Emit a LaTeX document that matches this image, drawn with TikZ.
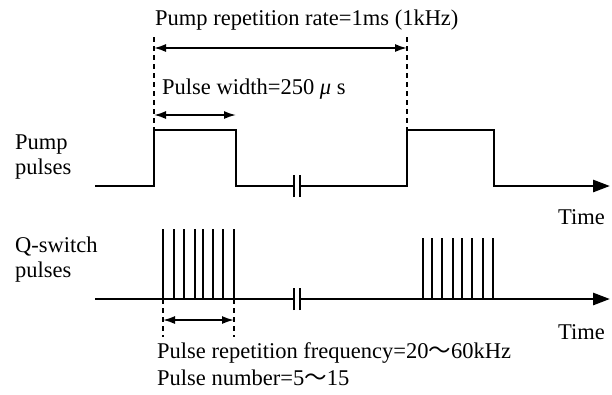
\documentclass[tikz,border=0pt]{standalone}
\usepackage{fontspec}
\setmainfont{Liberation Serif}
\newfontfamily\cjkfont{Noto Sans CJK SC}
\usetikzlibrary{arrows.meta}
\definecolor{inkblack}{RGB}{0,0,0}
\tikzset{
  % Signal lines
  waveline/.style  = {line width=2.8pt, draw=inkblack, line join=miter},
  spikeline/.style = {line width=1.6pt, draw=inkblack},
  timeaxis/.style  = {waveline, -{Triangle[length=17pt,width=12pt]}},
  breakmark/.style = {line width=1.8pt, draw=inkblack},
  % Dimension lines
  dimarrow/.style  = {line width=1.7pt, {Latex[length=12pt,width=8pt]}-{Latex[length=12pt,width=8pt]}},
  guidedash/.style = {line width=1.1pt, dash pattern=on 5pt off 4pt},
  % Labels
  lab/.style       = {font=\fontsize{22.5}{26}\selectfont, inner sep=0pt, anchor=base west},
}
\begin{document}
\begin{tikzpicture}[x=1pt,y=-1pt]
  \useasboundingbox (0,0) rectangle (612,394);
  % Pump pulse corners
  \coordinate (P0) at (95,186);
  \coordinate (P1) at (154,186);
  \coordinate (P2) at (154,130);
  \coordinate (P3) at (236,130);
  \coordinate (P4) at (236,186);
  \coordinate (PB1) at (294,186);
  \coordinate (PB2) at (300,186);
  \coordinate (P5) at (407,186);
  \coordinate (P6) at (407,130);
  \coordinate (P7) at (494,130);
  \coordinate (P8) at (494,186);
  \coordinate (Pend) at (610,186);
  % Q-switch baseline
  \coordinate (Q0) at (95,299);
  \coordinate (QB1) at (294,299);
  \coordinate (QB2) at (300,299);
  \coordinate (Qend) at (610,299);
  % Pump waveform
  \draw[waveline] (P0) -- (P1) -- (P2) -- (P3) -- (P4) -- (PB1);
  \draw[timeaxis] (PB2) -- (P5) -- (P6) -- (P7) -- (P8) -- (Pend);
  % Q-switch waveform
  \draw[waveline] (Q0) -- (QB1);
  \draw[timeaxis] (QB2) -- (Qend);
  \foreach \x in {163,174,184,195,203,213,223,234}
    \draw[spikeline] (\x,299) -- (\x,229);
  \foreach \x in {423,432,442,453,462,472,483,493}
    \draw[spikeline] (\x,299) -- (\x,238);
  % Axis breaks
  \foreach \y in {186,299} {
    \draw[breakmark] ([yshift=-11pt]294,\y) -- ([yshift=11pt]294,\y);
    \draw[breakmark] ([yshift=-11pt]300,\y) -- ([yshift=11pt]300,\y);
  }
  % Guide lines
  \coordinate (G1) at (154,37);
  \coordinate (G2) at (407,37);
  \coordinate (G3) at (163,337);
  \coordinate (G4) at (234,337);
  \draw[guidedash] (G1) -- (P2);
  \draw[guidedash] (G2) -- (P6);
  \draw[guidedash] (163,299) -- (G3);
  \draw[guidedash] (234,299) -- (G4);
  % Dimension arrows
  \coordinate (R1) at (154,48);
  \coordinate (R2) at (407,48);
  \coordinate (W1) at (154,115);
  \coordinate (W2) at (236,115);
  \coordinate (F1) at (163,320);
  \coordinate (F2) at (234,320);
  \draw[dimarrow] (R1) -- (R2);
  \draw[dimarrow] (W1) -- (W2);
  \draw[dimarrow] (F1) -- (F2);
  % Labels
  \node[lab] (reprate) at (155,25) {Pump repetition rate=1ms (1kHz)};
  \node[lab] (pwidth) at (162,94) {Pulse width=250 \textit{μ} s};
  \node[lab] (pumpA) at (15,149) {Pump};
  \node[lab] (pumpB) at (15,174) {pulses};
  \node[lab] (qswA) at (15,252) {Q-switch};
  \node[lab] (qswB) at (15,277) {pulses};
  \node[lab] (timeA) at (558,224) {Time};
  \node[lab] (timeB) at (558,339) {Time};
  \node[lab] (prf) at (157,358) {Pulse repetition frequency=20{\cjkfont ～}60kHz};
  \node[lab] (pnum) at (157,385) {Pulse number=5{\cjkfont ～}15};
\end{tikzpicture}
\end{document}
